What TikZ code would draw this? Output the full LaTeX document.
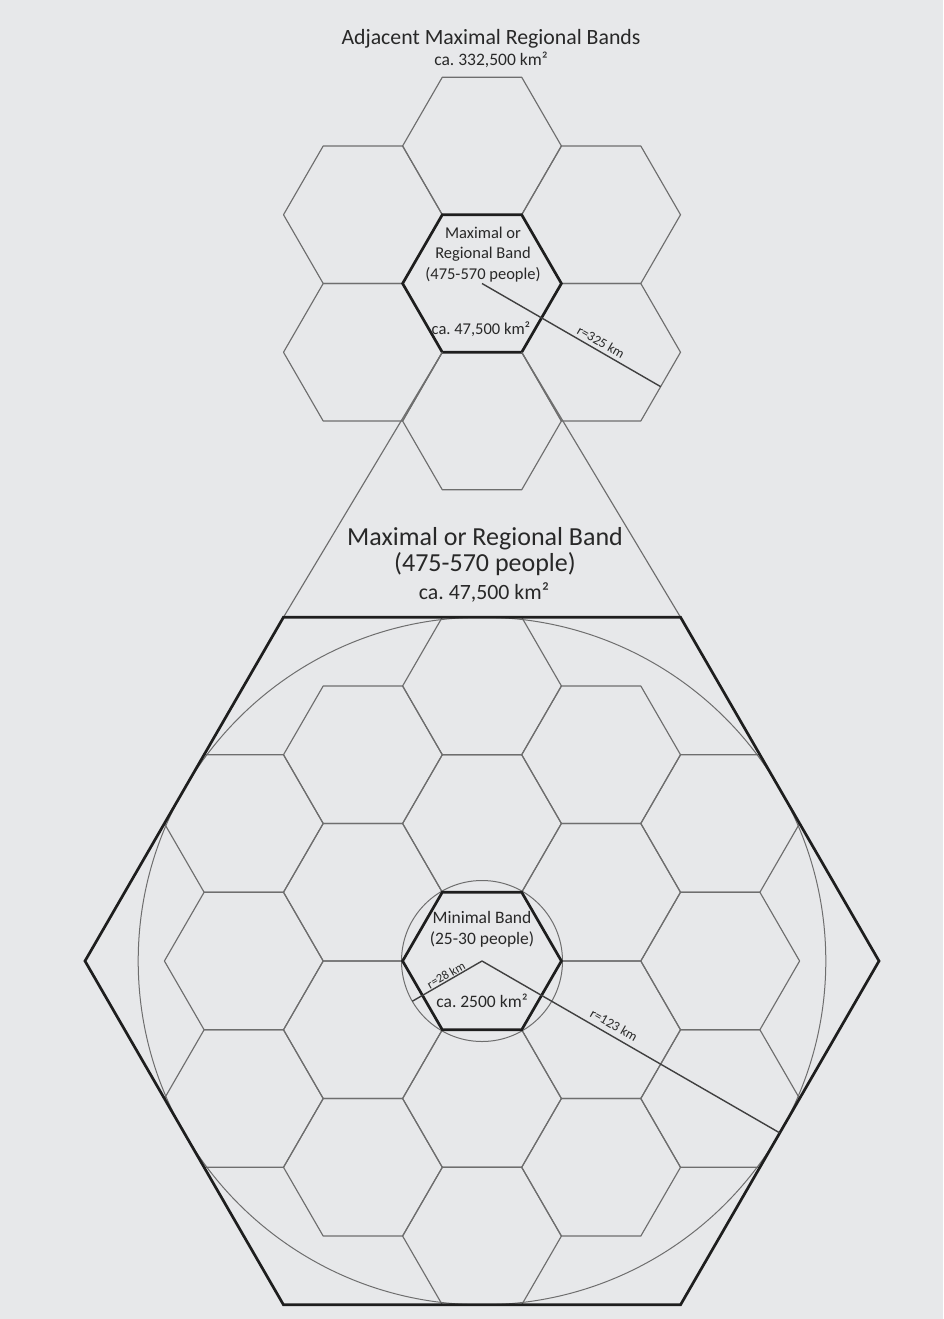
\documentclass[tikz,border=0pt]{standalone}
\usepackage{fontspec}
\setmainfont{Carlito}
\usetikzlibrary{calc}
\definecolor{bgc}{RGB}{231,232,234}
\definecolor{thinc}{RGB}{110,110,110}
\definecolor{boldc}{RGB}{30,30,30}
\definecolor{txtc}{RGB}{40,40,40}
\newcommand\hexat[4][]{\draw[#1,shift={({#2},{#3})}] (0:#4)--(60:#4)--(120:#4)--(180:#4)--(240:#4)--(300:#4)--cycle;}
\def\hexR{79.4}
\def\hexA{68.76}
\tikzset{
  thinline/.style={draw=thinc, line width=1.15pt, line join=round},
  boldline/.style={draw=boldc, line width=2.7pt, line join=miter},
  circline/.style={draw=thinc, line width=1pt},
  radline/.style={draw=boldc!85, line width=1.4pt},
  lbl/.style={text=txtc, inner sep=0pt, anchor=base},
  rlbl/.style={text=txtc, inner sep=0pt},
}
\frenchspacing
\begin{document}
\begin{tikzpicture}[x=1pt,y=-1pt]
\fill[bgc] (0,0) rectangle (943,1319);
\useasboundingbox (0,0) rectangle (943,1319);

% ---------- top cluster ----------
\coordinate (tc) at (482,283.5);
\foreach \q/\m in {0/-2,0/2,-1/-1,-1/1,1/-1,1/1}
  \hexat[thinline]{482+119.1*(\q)}{283.5+68.76*(\m)}{\hexR};
\hexat[boldline]{482}{283.5}{\hexR}
\coordinate (tcBL) at (482-39.7,283.5+68.76);
\coordinate (tcBR) at (482+39.7,283.5+68.76);
\coordinate (r325) at ($(tc)+(30:206.3)$);
\draw[radline] (tc) -- (r325);

% ---------- big hexagon ----------
\coordinate (bc) at (482,961);
\coordinate (bigTL) at (482-198.5,961-343.8);
\coordinate (bigTR) at (482+198.5,961-343.8);
\draw[thinline] (tcBL) -- (bigTL);
\draw[thinline] (tcBR) -- (bigTR);
\foreach \q/\m in {0/-4,0/-2,0/0,0/2,0/4,
                   -1/-3,-1/-1,-1/1,-1/3,1/-3,1/-1,1/1,1/3,
                   -2/-2,-2/0,-2/2,2/-2,2/0,2/2}
  \hexat[thinline]{482+119.1*(\q)}{961+68.76*(\m)}{\hexR};
\draw[circline] (bc) circle[radius=343.8];
\draw[circline] (bc) circle[radius=80.5];
\hexat[boldline]{482}{961}{\hexR}
\hexat[boldline]{482}{961}{397}
\coordinate (r123) at ($(bc)+(30:343.8)$);
\coordinate (r28) at ($(bc)+(150:80.5)$);
\draw[radline] (bc) -- (r123);
\draw[radline] (bc) -- (r28);

% ---------- texts ----------
\node[lbl, font=\fontsize{21.8}{25}\selectfont] (title) at (491,45) {Adjacent Maximal Regional Bands};
\node[lbl, font=\fontsize{17.5}{20}\selectfont] (tarea) at (491,66) {ca. 332,500 km²};

\node[lbl, font=\fontsize{16.5}{19}\selectfont] (t1) at (483,238) {Maximal or};
\node[lbl, font=\fontsize{16.5}{19}\selectfont] (t2) at (483,258) {Regional Band};
\node[lbl, font=\fontsize{16.5}{19}\selectfont] (t3) at (483,279) {(475-570 people)};
\node[lbl, font=\fontsize{16.5}{19}\selectfont] (t4) at (481,334) {ca. 47,500 km²};
\node[rlbl, rotate=-30, font=\fontsize{13.5}{15}\selectfont] (l325) at (601,342) {r=325 km};

\node[lbl, font=\fontsize{26}{30}\selectfont] (m1) at (485,545) {Maximal or Regional Band};
\node[lbl, font=\fontsize{26}{30}\selectfont] (m2) at (485,571) {(475-570 people)};
\node[lbl, font=\fontsize{21.8}{25}\selectfont] (m3) at (484,599) {ca. 47,500 km²};

\node[lbl, font=\fontsize{17.5}{20}\selectfont] (n1) at (482,923) {Minimal Band};
\node[lbl, font=\fontsize{17.5}{20}\selectfont] (n2) at (482,944) {(25-30 people)};
\node[lbl, font=\fontsize{17.5}{20}\selectfont] (n3) at (482,1007) {ca. 2500 km²};
\node[rlbl, rotate=30, font=\fontsize{12.5}{14}\selectfont] (l28) at (446,975) {r=28 km};
\node[rlbl, rotate=-30, font=\fontsize{13.5}{15}\selectfont] (l123) at (614,1025) {r=123 km};
\end{tikzpicture}
\end{document}
